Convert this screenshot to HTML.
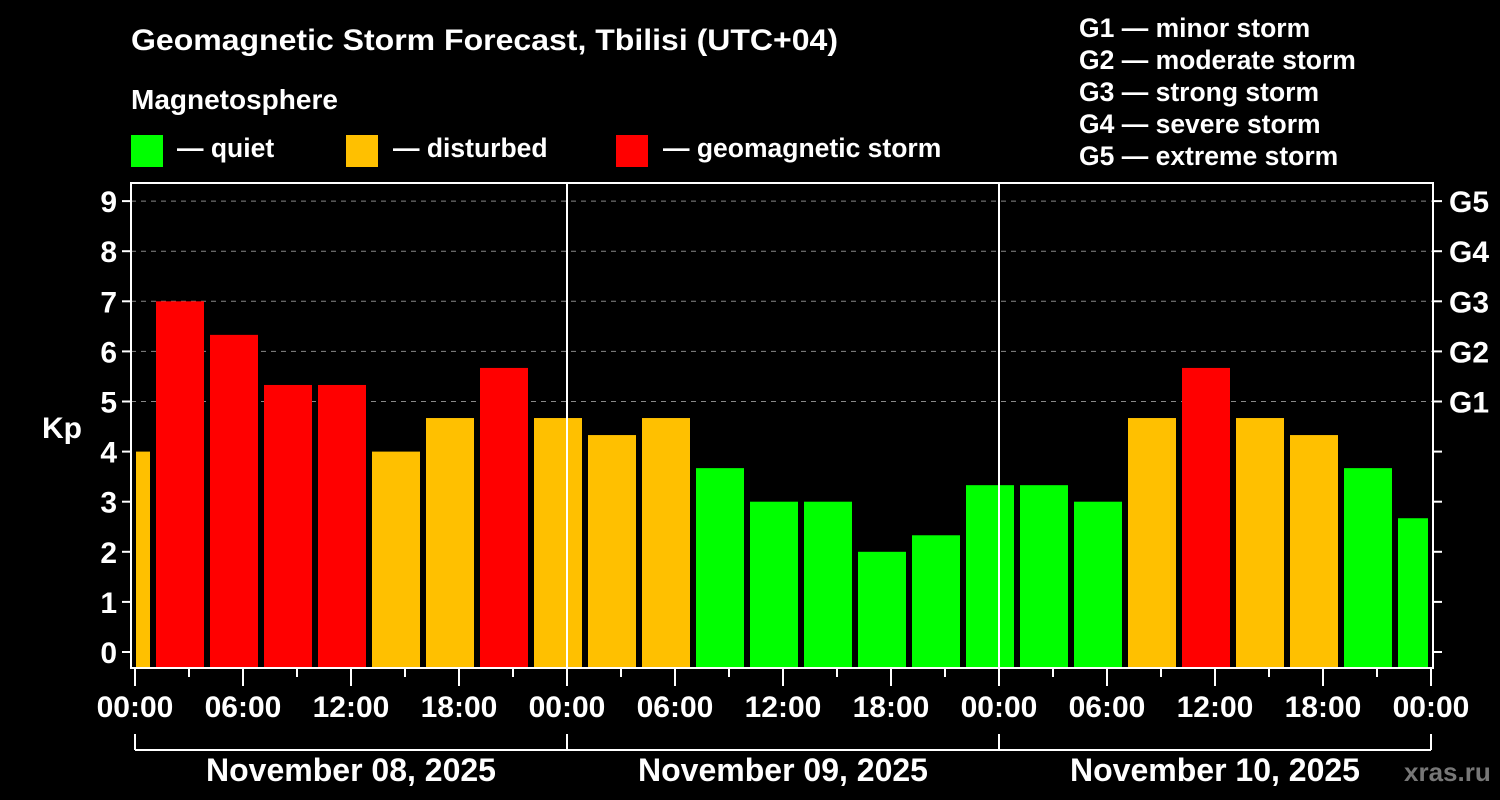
<!DOCTYPE html>
<html><head><meta charset="utf-8"><style>
html,body{margin:0;padding:0;background:#000;}
svg{display:block;font-family:"Liberation Sans",Arial,sans-serif;font-weight:bold;}
</style></head><body>
<svg id="chart" width="1500" height="800" viewBox="0 0 1500 800">
<rect width="1500" height="800" fill="#000"/>
<text x="131" y="50" fill="#fff" font-size="30" textLength="707" lengthAdjust="spacingAndGlyphs">Geomagnetic Storm Forecast, Tbilisi (UTC+04)</text>
<text x="131" y="109" fill="#fff" font-size="28">Magnetosphere</text>
<g><rect x="131" y="135" width="32" height="32" fill="#00ff00"/><text x="177" y="157" fill="#fff" font-size="26.5">— quiet</text></g>
<g><rect x="346" y="135" width="32" height="32" fill="#ffc000"/><text x="393" y="157" fill="#fff" font-size="26.5">— disturbed</text></g>
<g><rect x="616" y="135" width="32" height="32" fill="#ff0000"/><text x="663" y="157" fill="#fff" font-size="26.5">— geomagnetic storm</text></g>
<g fill="#fff" font-size="26.5">
<text x="1079" y="37">G1 — minor storm</text>
<text x="1079" y="69">G2 — moderate storm</text>
<text x="1079" y="101">G3 — strong storm</text>
<text x="1079" y="133">G4 — severe storm</text>
<text x="1079" y="165">G5 — extreme storm</text>
</g>
<text x="42" y="438" fill="#fff" font-size="30">Kp</text>
<text x="1404" y="781" fill="#777" font-size="26">xras.ru</text>
<g id="plot"></g>
</svg>
<script>
const kpValues=[4.0,7.0,6.33,5.33,5.33,4.0,4.67,5.67,4.67,4.33,4.67,3.67,3.0,3.0,2.0,2.33,3.33,3.33,3.0,4.67,5.67,4.67,4.33,3.67,2.67];
const barHours=[-0.5,2.5,5.5,8.5,11.5,14.5,17.5,20.5,23.5,26.5,29.5,32.5,35.5,38.5,41.5,44.5,47.5,50.5,53.5,56.5,59.5,62.5,65.5,68.5,71.5];
const yTicks=[0,1,2,3,4,5,6,7,8,9];
const gLevels=[5,6,7,8,9];
const gLabels=["G1","G2","G3","G4","G5"];
const xTickLabels=["00:00","06:00","12:00","18:00","00:00","06:00","12:00","18:00","00:00","06:00","12:00","18:00","00:00"];
const dateLabels=["November 08, 2025","November 09, 2025","November 10, 2025"];

const NS="http://www.w3.org/2000/svg";
const L=131,R=1433,T=183,B=668,X0=135,PXH=18;
const xs=h=>X0+h*PXH;
const ys=v=>652-v*50.1;
const plot=document.getElementById('plot');
function mk(tag,attrs){const e=document.createElementNS(NS,tag);for(const k in attrs)e.setAttribute(k,attrs[k]);plot.appendChild(e);return e;}

gLevels.forEach(v=>{
 const l=mk('line',{x1:L,x2:R,y1:ys(v),y2:ys(v),stroke:'#888','stroke-dasharray':'5,5','stroke-width':1});
 
 
});
kpValues.forEach((v,i)=>{
 let x1=xs(barHours[i])-24,x2=xs(barHours[i])+24;
 x1=Math.max(x1,X0+1);x2=Math.min(x2,xs(72)-3);
 const c=v>=5?'#ff0000':(v>=4?'#ffc000':'#00ff00');
 const r=mk('rect',{x:x1,y:ys(v),width:x2-x1,height:B-ys(v),fill:c});
 
 
});
[24,48].forEach(h=>{
 const l=mk('line',{x1:xs(h),x2:xs(h),y1:T,y2:B,stroke:'#fff','stroke-width':2});
 
 
});
const f=mk('rect',{x:L,y:T,width:R-L,height:B-T,fill:'none',stroke:'#fff','stroke-width':2});


yTicks.forEach(v=>{
 mk('line',{x1:L-9,x2:L,y1:ys(v),y2:ys(v),stroke:'#fff','stroke-width':2});
 mk('line',{x1:R,x2:R+9,y1:ys(v),y2:ys(v),stroke:'#fff','stroke-width':2});
 const t=mk('text',{x:L-14,y:ys(v)+11,fill:'#fff','font-size':30,'text-anchor':'end'});
 t.textContent=v;
 
 
});
gLevels.forEach((v,i)=>{
 const t=mk('text',{x:R+16,y:ys(v)+11,fill:'#fff','font-size':30});
 t.textContent=gLabels[i];
 
 
});
for(let h=0;h<=72;h+=3){
 const major=h%6===0;
 mk('line',{x1:xs(h),x2:xs(h),y1:B,y2:B+(major?18:9),stroke:'#fff','stroke-width':2});
}
xTickLabels.forEach((s,i)=>{
 const t=mk('text',{x:xs(i*6),y:717,fill:'#fff','font-size':30,'text-anchor':'middle'});
 t.textContent=s;
 
 
});
mk('line',{x1:xs(0),x2:xs(72),y1:750,y2:750,stroke:'#fff','stroke-width':2});
[0,24,48,72].forEach(h=>mk('line',{x1:xs(h),x2:xs(h),y1:734,y2:750,stroke:'#fff','stroke-width':2}));
dateLabels.forEach((s,i)=>{
 const t=mk('text',{x:xs(i*24+12),y:781,fill:'#fff','font-size':32,'text-anchor':'middle'});
 t.textContent=s;
 
 
});
</script>
</body></html>
